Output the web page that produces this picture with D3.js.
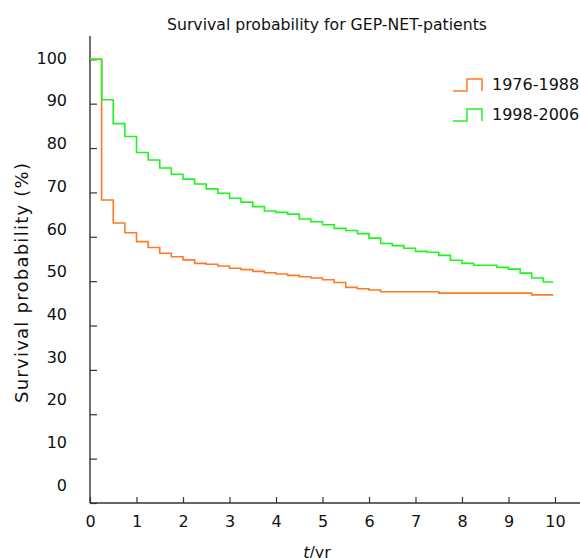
<!DOCTYPE html>
<html>
<head>
<meta charset="utf-8">
<script src="https://cdn.jsdelivr.net/npm/d3@7"></script>
<style>
  body { margin: 0; background: #fff; }
  text { font-family: "DejaVu Sans", Verdana, sans-serif; fill: #111; }
</style>
</head>
<body>
<div id="chart"></div>
<script>
// step change points (years) and survival (%) after each change
const timesOld = [0, 0.25, 0.5, 0.75, 1, 1.25, 1.5, 1.75, 2, 2.25, 2.5, 2.75, 3, 3.25, 3.5, 3.75,
                  4, 4.25, 4.5, 4.75, 5, 5.25, 5.5, 5.75, 6, 6.25, 7.5, 9.5, 9.96];
const survOld  = [100, 68.3, 63.1, 60.9, 58.9, 57.6, 56.3, 55.5, 54.8, 54.0, 53.8, 53.4, 52.9, 52.6, 52.2, 51.9,
                  51.6, 51.3, 51.0, 50.7, 50.3, 49.7, 48.6, 48.3, 48.0, 47.6, 47.3, 46.9, 46.9];

const timesNew = [0, 0.25, 0.5, 0.75, 1, 1.25, 1.5, 1.75, 2, 2.25, 2.5, 2.75, 3, 3.25, 3.5, 3.75,
                  4, 4.25, 4.5, 4.75, 5, 5.25, 5.5, 5.75, 6, 6.25, 6.5, 6.75, 7, 7.25, 7.5, 7.75,
                  8, 8.25, 8.75, 9, 9.25, 9.5, 9.75, 9.96];
const survNew  = [100, 90.9, 85.5, 82.6, 79.0, 77.3, 75.5, 74.1, 73.0, 71.9, 70.8, 69.8, 68.7, 67.8, 66.8, 65.8,
                  65.5, 65.1, 64.0, 63.4, 62.7, 61.9, 61.4, 60.7, 59.7, 58.5, 58.0, 57.4, 56.7, 56.5, 55.8, 54.7,
                  54.0, 53.6, 53.1, 52.7, 51.8, 50.7, 49.8, 49.8];

const seriesNames = ["1976-1988", "1998-2006"];
const seriesColors = ["#ff7a22", "#1ef51e"];
const xTicks = [0, 1, 2, 3, 4, 5, 6, 7, 8, 9, 10];
const yTicks = [0, 10, 20, 30, 40, 50, 60, 70, 80, 90, 100];

const width = 580, height = 558;

const svg = d3.select("#chart").append("svg")
  .attr("width", width)
  .attr("height", height);

const x = d3.scaleLinear().domain([0, 10]).range([90, 555]);
const y = d3.scaleLinear().domain([0, 100]).range([503, 59.3]);
// tick labels in the original sit on a slightly tighter spacing than the ticks
const yLab = d3.scaleLinear().domain([0, 100]).range([485, 58]);

// title
svg.append("text")
  .attr("x", 327).attr("y", 30)
  .attr("text-anchor", "middle")
  .attr("textLength", 320)
  .attr("lengthAdjust", "spacing")
  .style("font-size", "15.7px")
  .text("Survival probability for GEP-NET-patients");

// axes
const axisColor = "#333";
const gx = svg.append("g")
  .attr("transform", `translate(0,${y(0)})`)
  .call(d3.axisBottom(x).tickValues(xTicks).tickSize(-6).tickPadding(13).tickFormat(d3.format("d")));
gx.select(".domain").remove();
gx.selectAll(".tick line").attr("stroke", axisColor).attr("stroke-width", 1.2);
gx.selectAll(".tick text").style("font-size", "16px").attr("fill", "#111")
  .style("font-family", "DejaVu Sans, sans-serif");

const gy = svg.append("g")
  .attr("transform", `translate(${x(0)},0)`)
  .call(d3.axisLeft(y).tickValues(yTicks).tickSize(-7).tickFormat(""));
gy.select(".domain").remove();
gy.selectAll(".tick line").attr("stroke", axisColor).attr("stroke-width", 1.2);

svg.append("line")
  .attr("x1", x(0)).attr("x2", 580)
  .attr("y1", y(0)).attr("y2", y(0))
  .attr("stroke", axisColor).attr("stroke-width", 1.4);
svg.append("line")
  .attr("x1", x(0)).attr("x2", x(0))
  .attr("y1", 36).attr("y2", y(0))
  .attr("stroke", axisColor).attr("stroke-width", 1.4);

svg.append("g").selectAll("text")
  .data(yTicks)
  .enter().append("text")
  .attr("x", 67)
  .attr("y", d => yLab(d))
  .attr("dy", "0.36em")
  .attr("text-anchor", "end")
  .style("font-size", "16px")
  .text(d => d);

// axis titles
svg.append("text")
  .attr("transform", "translate(22,283) rotate(-90)")
  .attr("dy", "0.36em")
  .attr("text-anchor", "middle")
  .attr("textLength", 240)
  .attr("lengthAdjust", "spacing")
  .style("font-size", "18px")
  .text("Survival probability (%)");

const xt = svg.append("text")
  .attr("x", 317).attr("y", 558)
  .attr("text-anchor", "middle")
  .style("font-size", "16px");
xt.append("tspan").style("font-style", "italic").text("t");
xt.append("tspan").text("/yr");

// curves
const line = d3.line()
  .x(d => x(d[0]))
  .y(d => y(d[1]))
  .curve(d3.curveStepAfter);

const curves = [d3.zip(timesOld, survOld), d3.zip(timesNew, survNew)];

svg.append("g").selectAll("path")
  .data(curves)
  .enter().append("path")
  .attr("d", line)
  .attr("fill", "none")
  .attr("stroke", (d, i) => seriesColors[i])
  .attr("stroke-width", 1.6);

// legend
const legend = svg.append("g").selectAll("g")
  .data(seriesNames)
  .enter().append("g")
  .attr("transform", (d, i) => `translate(0,${i * 30})`);

legend.append("path")
  .attr("d", "M453,91H467V79H482V91")
  .attr("fill", "none")
  .attr("stroke", (d, i) => seriesColors[i])
  .attr("stroke-width", 1.5);

legend.append("text")
  .attr("x", 492).attr("y", 84)
  .attr("dy", "0.36em")
  .style("font-size", "16px")
  .text(d => d);
</script>
</body>
</html>
